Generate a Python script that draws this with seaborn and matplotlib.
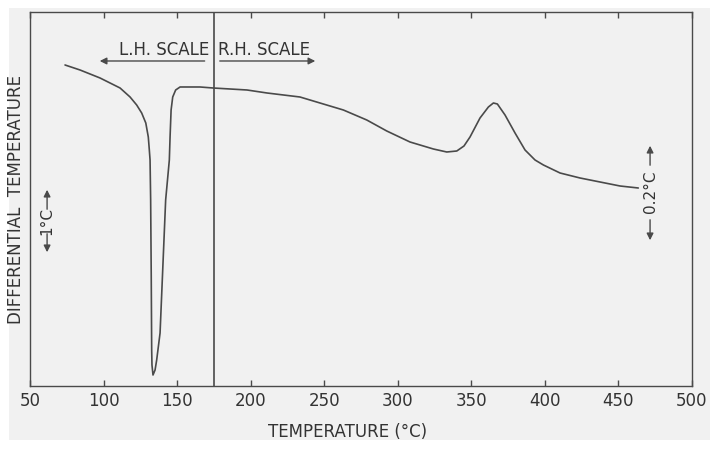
import numpy as np
import pandas as pd
import seaborn as sns
import matplotlib.pyplot as plt
from matplotlib.patches import Rectangle

# ===============================
# 1. DATA
# ===============================
temperature = [73.8, 84.0, 97.6, 104.4, 111.2, 118.0, 122.5, 125.9, 128.7, 130.4,
               131.1, 131.6, 132.0, 132.4, 132.7, 132.9, 133.6, 135.0, 136.1, 138.4,
               142.2, 144.7, 145.2, 145.9, 147.0, 149.0, 152.0, 165.6, 174.4, 197.5,
               211.1, 233.5, 247.1, 263.0, 278.9, 292.5, 308.3, 324.2, 333.3, 340.1,
               345.0, 349.1, 355.9, 361.6, 365.0, 367.7, 372.9, 379.7, 386.5, 393.3,
               399.0, 410.3, 423.9, 437.5, 451.1, 463.5]
diff_temp = [321, 316, 308, 303, 298, 289, 281, 273, 263, 249,
             236, 226, 186, 110, 36, 21, 11, 16, 26, 53,
             186, 226, 249, 276, 289, 296, 299, 299, 298, 296,
             293, 289, 283, 276, 266, 255, 244, 237, 234, 235,
             240, 249, 268, 279, 283, 282, 271, 253, 236, 226,
             221, 213, 208, 204, 200, 198]

x_ticks = [50, 100, 150, 200, 250, 300, 350, 400, 450, 500]
scale_split = 175

df = pd.DataFrame({"temperature": temperature, "diff_temp": diff_temp})

# ===============================
# 2. STYLE
# ===============================
sns.set_theme(style="white")
plt.rcParams["font.family"] = ["DejaVu Sans"]

ink = "#4a4a4a"
paper = "#f1f1f1"

fig = plt.figure(figsize=(7.2, 4.49), dpi=100, facecolor="white")
fig.patches.append(Rectangle((0.0125, 0.020), 0.9735, 0.962, transform=fig.transFigure,
                             facecolor=paper, edgecolor="none", zorder=-5))
ax = fig.add_axes([0.0417, 0.1403, 0.9194, 0.833])
ax.set_facecolor(paper)

# ===============================
# 3. CURVE
# ===============================
sns.lineplot(data=df, x="temperature", y="diff_temp", ax=ax, color=ink,
             linewidth=1.2, sort=False, estimator=None)
ax.axvline(scale_split, color=ink, linewidth=1.2)

ax.set_xlim(50, 500)
ax.set_ylim(0, 374)
ax.set_xticks(x_ticks)
ax.set_yticks([])
ax.set_xlabel("")
ax.set_ylabel("")
for s in ax.spines.values():
    s.set_color(ink)
    s.set_linewidth(1.0)
ax.tick_params(axis="x", direction="in", length=4, width=1, color=ink,
               top=True, bottom=True, labelsize=12, labelcolor="#333333", pad=4)

# ===============================
# 4. ANNOTATIONS
# ===============================
arrow = dict(arrowstyle="-|>", color=ink, lw=1.0, mutation_scale=10)
ax.annotate("", xy=(95.5, 325), xytext=(170.6, 325), arrowprops=arrow)
ax.annotate("", xy=(245.8, 325), xytext=(177.1, 325), arrowprops=arrow)
ax.text(172, 327, "L.H. SCALE", ha="right", va="bottom", fontsize=12, color="#333333")
ax.text(178, 327, "R.H. SCALE", ha="left", va="bottom", fontsize=12, color="#333333")

# 1°C scale bar
ax.annotate("", xy=(61.6, 199), xytext=(61.6, 174), arrowprops=arrow)
ax.annotate("", xy=(61.6, 131), xytext=(61.6, 155), arrowprops=arrow)
ax.text(61.6, 165, "1°C", rotation=90, ha="center", va="center", fontsize=11, color="#333333")

# 0.2°C scale bar
ax.annotate("", xy=(471.5, 243), xytext=(471.5, 218), arrowprops=arrow)
ax.annotate("", xy=(471.5, 143), xytext=(471.5, 169), arrowprops=arrow)
ax.text(471.5, 194, "0.2°C", rotation=90, ha="center", va="center", fontsize=11, color="#333333")

fig.text(16 / 720, 1 - 200 / 449, "DIFFERENTIAL  TEMPERATURE", rotation=90,
         ha="center", va="center", fontsize=12, color="#333333")
fig.text(348 / 720, 1 - 432 / 449, "TEMPERATURE (°C)", ha="center", va="center",
         fontsize=12, color="#333333")

fig.savefig("out.png", dpi=100, facecolor="white")
